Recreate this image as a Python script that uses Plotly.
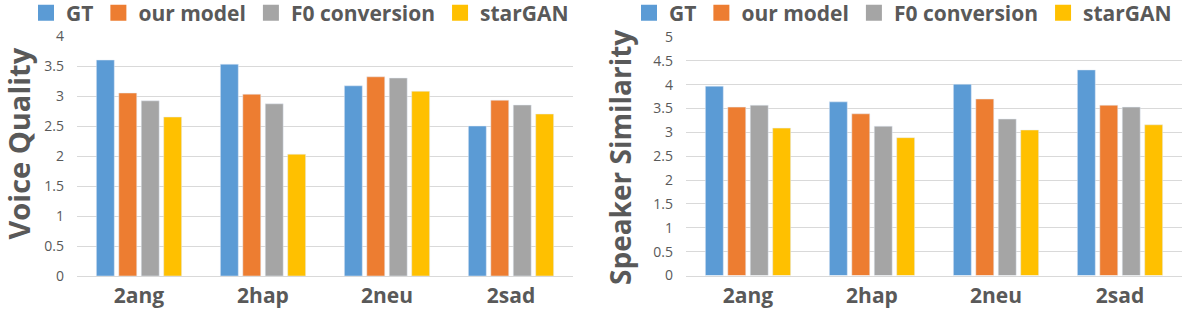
import plotly.graph_objects as go

categories = ["2ang", "2hap", "2neu", "2sad"]
series_names = ["GT", "our model", "F0 conversion", "starGAN"]
colors = ["#5B9BD5", "#ED7D31", "#A5A5A5", "#FFC000"]

vq_gt = [3.60, 3.53, 3.17, 2.50]
vq_model = [3.05, 3.03, 3.32, 2.93]
vq_f0 = [2.92, 2.87, 3.30, 2.85]
vq_star = [2.65, 2.03, 3.08, 2.70]

ss_gt = [3.97, 3.64, 4.01, 4.31]
ss_model = [3.53, 3.39, 3.70, 3.57]
ss_f0 = [3.57, 3.13, 3.28, 3.53]
ss_star = [3.09, 2.89, 3.05, 3.16]

vq_ticks = [0, 0.5, 1, 1.5, 2, 2.5, 3, 3.5, 4]
ss_ticks = [0, 0.5, 1, 1.5, 2, 2.5, 3, 3.5, 4, 4.5, 5]

vq_title = "Voice Quality"
ss_title = "Speaker Similarity"

FONT = "Open Sans"
TXT = "#595959"
GRID = "#D9D9D9"

fig = go.Figure()

vq = [vq_gt, vq_model, vq_f0, vq_star]
ss = [ss_gt, ss_model, ss_f0, ss_star]

for name, col, vals in zip(series_names, colors, vq):
    fig.add_trace(go.Bar(x=categories, y=vals, name=name, marker_color=col,
                         xaxis="x", yaxis="y", showlegend=False))
for name, col, vals in zip(series_names, colors, ss):
    fig.add_trace(go.Bar(x=categories, y=vals, name=name, marker_color=col,
                         xaxis="x2", yaxis="y2", showlegend=False))

# legend entries (square swatches)
for name, col in zip(series_names, colors):
    fig.add_trace(go.Scatter(x=[None], y=[None], mode="markers", name=name,
                             marker=dict(symbol="square", size=16, color=col),
                             xaxis="x", yaxis="y", legend="legend"))
for name, col in zip(series_names, colors):
    fig.add_trace(go.Scatter(x=[None], y=[None], mode="markers", name=name,
                             marker=dict(symbol="square", size=16, color=col),
                             xaxis="x2", yaxis="y2", legend="legend2"))

W, H = 1187, 311
legfont = dict(family=FONT, size=21, color=TXT, weight="bold")

xcommon = dict(type="category", showgrid=False, showline=True, linecolor=GRID,
               linewidth=1, ticks="", ticklabelstandoff=1,
               tickfont=dict(family=FONT, size=21, color=TXT, weight="bold"))
ycommon = dict(showgrid=True, gridcolor=GRID, gridwidth=1, zeroline=False,
               showline=False, ticks="", ticklabelstandoff=12,
               tickfont=dict(family=FONT, size=14, color=TXT))

fig.update_layout(
    width=W, height=H,
    margin=dict(l=0, r=0, t=0, b=0, autoexpand=False),
    paper_bgcolor="white", plot_bgcolor="white",
    barmode="group", bargap=0.276, bargroupgap=0.2,
    xaxis=dict(domain=[77 / W, 573 / W], anchor="y", **xcommon),
    yaxis=dict(domain=[35 / H, 275 / H], anchor="x", range=[0, 4],
               tickvals=vq_ticks, ticktext=[f"{v:g}" for v in vq_ticks],
               **ycommon),
    xaxis2=dict(domain=[686 / W, 1182 / W], anchor="y2", **xcommon),
    yaxis2=dict(domain=[35.5 / H, 274 / H], anchor="x2", range=[0, 5],
                tickvals=ss_ticks, ticktext=[f"{v:g}" for v in ss_ticks],
                **ycommon),
    legend=dict(orientation="h", x=26 / W, xanchor="left", y=1 - 13 / H,
                yanchor="middle", font=legfont, itemsizing="trace",
                bgcolor="rgba(0,0,0,0)", tracegroupgap=0),
    legend2=dict(orientation="h", x=629 / W, xanchor="left", y=1 - 13 / H,
                 yanchor="middle", font=legfont, itemsizing="trace",
                 bgcolor="rgba(0,0,0,0)", tracegroupgap=0),
    annotations=[
        dict(text=vq_title, textangle=-90, xref="paper", yref="paper",
             x=18 / W, y=1 - 143.5 / H, xanchor="center", yanchor="middle",
             showarrow=False,
             font=dict(family=FONT, size=29, color=TXT, weight="bold")),
        dict(text=ss_title, textangle=-90, xref="paper", yref="paper",
             x=620 / W, y=1 - 157 / H, xanchor="center", yanchor="middle",
             showarrow=False,
             font=dict(family=FONT, size=28, color=TXT, weight="bold")),
    ],
)

fig.write_html("out.html", config={"displayModeBar": False},
               post_script="document.body.style.margin='0';")
